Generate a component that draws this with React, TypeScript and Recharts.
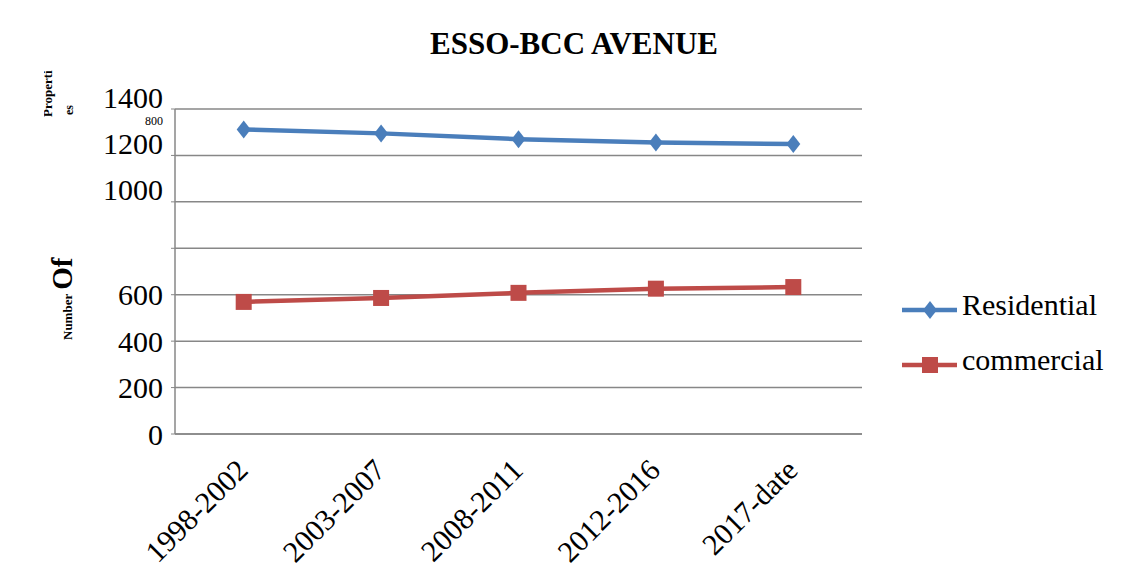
import { LineChart, Line, XAxis, YAxis, CartesianGrid, Legend } from "recharts";

const periods = ["1998-2002", "2003-2007", "2008-2011", "2012-2016", "2017-date"];
const residential = [1312, 1295, 1270, 1256, 1249];
const commercial = [569, 586, 608, 626, 633];
const yTicks = [0, 200, 400, 600, 800, 1000, 1200, 1400];

const data = periods.map((p, i) => ({
  period: p,
  residential: residential[i],
  commercial: commercial[i],
}));

const FONT = "'Liberation Serif', 'Times New Roman', Tinos, 'DejaVu Serif', 'Noto Serif', Times, serif";
const BLUE = "#4A7EBB";
const RED = "#BE4B48";
const GRID = "#878787";

function Diamond({ cx, cy, color }: any) {
  return (
    <path
      d={`M${cx},${cy - 9} L${cx + 7},${cy} L${cx},${cy + 9} L${cx - 7},${cy} Z`}
      fill={color}
    />
  );
}

function Square({ cx, cy, color }: any) {
  return <rect x={cx - 8} y={cy - 8} width={16} height={16} fill={color} />;
}

// the source document has the upper labels sitting on their gridlines and a stray small "800"
function YTick({ x, y, payload }: any) {
  const v = payload.value;
  if (v === 800) return <g />;
  const shift = v >= 1000 ? -12 : 0;
  return (
    <g>
      <text x={x} y={y + shift} dy="0.35em" textAnchor="end" fontSize={30} style={{ fontFamily: FONT }} fill="#000">
        {v}
      </text>
      {v === 1400 && (
        <text x={x} y={y + 12} dy="0.35em" textAnchor="end" fontSize={12} style={{ fontFamily: FONT }} fill="#000">
          800
        </text>
      )}
    </g>
  );
}

function XTick({ x, y, payload }: any) {
  return (
    <g transform={`translate(${x + 6},${y + 38})`}>
      <text transform="rotate(-45)" textAnchor="end" fontSize={30} style={{ fontFamily: FONT }} fill="#000">
        {payload.value}
      </text>
    </g>
  );
}

const legendItems = [
  { name: "Residential", color: BLUE, shape: "diamond" },
  { name: "commercial", color: RED, shape: "square" },
];

function LegendBox() {
  return (
    <svg width={237} height={120}>
      {legendItems.map((it, i) => {
        const cy = 30 + i * 55;
        return (
          <g key={it.name}>
            <line x1={7} x2={62} y1={cy} y2={cy} stroke={it.color} strokeWidth={4.5} />
            {it.shape === "diamond" ? (
              <Diamond cx={35} cy={cy} color={it.color} />
            ) : (
              <Square cx={35} cy={cy} color={it.color} />
            )}
            <text x={67} y={cy + 5} fontSize={30} style={{ fontFamily: FONT }} fill="#000">
              {it.name}
            </text>
          </g>
        );
      })}
    </svg>
  );
}

const bold = { fontFamily: FONT, fontWeight: "bold" as const };

export default function App() {
  return (
    <div
      style={{
        position: "relative",
        width: 1137,
        height: 581,
        margin: -8,
        background: "#fff",
        fontFamily: FONT,
      }}
    >
      <LineChart
        width={1137}
        height={581}
        data={data}
        margin={{ top: 109, right: 275, bottom: 47, left: 0 }}
      >
        <CartesianGrid vertical={false} stroke={GRID} strokeWidth={1.5} />
        <XAxis
          dataKey="period"
          height={100}
          interval={0}
          padding={{ left: 68.7, right: 68.7 }}
          tickLine={false}
          tickSize={0}
          tickMargin={0}
          axisLine={{ stroke: GRID, strokeWidth: 1.5 }}
          tick={<XTick />}
        />
        <YAxis
          width={175}
          domain={[0, 1400]}
          ticks={yTicks}
          interval={0}
          tickSize={4}
          tickMargin={8}
          axisLine={{ stroke: GRID, strokeWidth: 1.5 }}
          tickLine={{ stroke: GRID }}
          tick={<YTick />}
        />
        <Legend
          layout="horizontal"
          verticalAlign="middle"
          align="center"
          wrapperStyle={{ left: 895, top: 280, width: 237, height: 120 }}
          content={() => <LegendBox />}
        />
        <Line
          type="linear"
          dataKey="residential"
          stroke={BLUE}
          strokeWidth={4.5}
          dot={(p: any) => <Diamond key={p.index} cx={p.cx} cy={p.cy} color={BLUE} />}
          activeDot={false}
          isAnimationActive={false}
        />
        <Line
          type="linear"
          dataKey="commercial"
          stroke={RED}
          strokeWidth={4.5}
          dot={(p: any) => <Square key={p.index} cx={p.cx} cy={p.cy} color={RED} />}
          activeDot={false}
          isAnimationActive={false}
        />
      </LineChart>
      <svg
        width={1137}
        height={581}
        style={{ position: "absolute", left: 0, top: 0, pointerEvents: "none" }}
      >
        <defs>
          <clipPath id="ylabClip">
            <rect x={44} y={0} width={100} height={581} />
          </clipPath>
        </defs>
        <line x1={6} x2={1137} y1={6} y2={6} stroke="#8a8a8a" strokeWidth={2} />
        <line x1={6} x2={6} y1={6} y2={581} stroke="#8a8a8a" strokeWidth={2} />
        <text x={574} y={54} textAnchor="middle" fontSize={31} style={bold} fill="#000">
          ESSO-BCC AVENUE
        </text>
        <g clipPath="url(#ylabClip)">
          <text transform="translate(52,117) rotate(-90)" fontSize={13} style={bold} fill="#000">
            Properti
          </text>
        </g>
        <text transform="translate(73,115) rotate(-90)" fontSize={12} style={bold} fill="#000">
          es
        </text>
        <text transform="translate(72,340) rotate(-90)" style={bold} fill="#000">
          <tspan fontSize={13}>Number</tspan>
          <tspan fontSize={29} dx={4}>Of</tspan>
        </text>
      </svg>
    </div>
  );
}
